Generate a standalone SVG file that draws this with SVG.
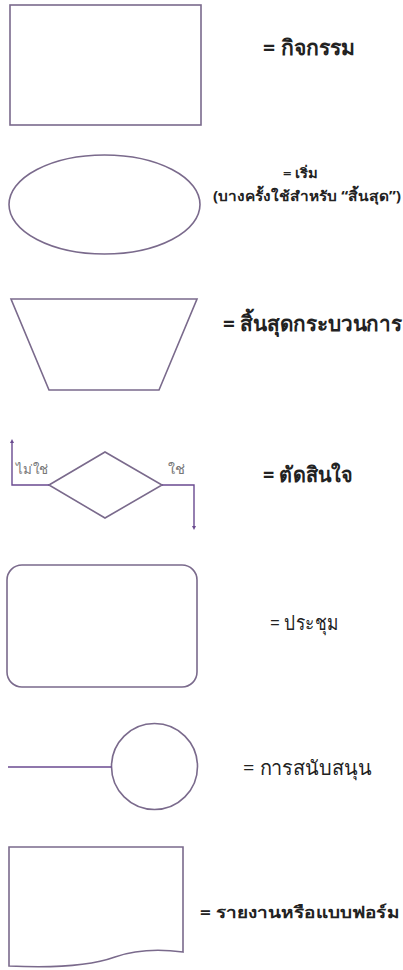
<svg xmlns="http://www.w3.org/2000/svg" width="403" height="970" viewBox="0 0 403 970">
<style>
.s{fill:#fff;stroke:#7a6a8c;stroke-width:1.6}
.l{fill:none;stroke:#6a4a90;stroke-width:1.4}
.t{font-family:"Noto Sans","DejaVu Sans",sans-serif;fill:#222;dominant-baseline:central}
.b{font-weight:bold}
.c{font-family:"Noto Sans","DejaVu Sans",sans-serif;fill:#777;font-size:13px;dominant-baseline:central}
</style>
<defs>
<marker id="ah" viewBox="0 0 6 6" refX="3" refY="3" markerWidth="4" markerHeight="4" orient="auto-start-reverse" markerUnits="userSpaceOnUse">
<path d="M0,0 L6,3 L0,6 z" fill="#6a4a90"/>
</marker>
</defs>
<rect width="403" height="970" fill="#fff"/>
<g id="activity">
<rect class="s" x="10" y="5" width="191" height="120"/>
<text class="t b" x="263" y="47" font-size="21" textLength="92" lengthAdjust="spacingAndGlyphs">= กิจกรรม</text>
</g>
<g id="start">
<ellipse class="s" cx="104.5" cy="204.5" rx="95.5" ry="49.5"/>
<text class="t b" x="283" y="173" font-size="13" textLength="35" lengthAdjust="spacingAndGlyphs">= เริ่ม</text>
<text class="t b" x="213" y="195" font-size="14" textLength="188" lengthAdjust="spacingAndGlyphs">(บางครั้งใช้สำหรับ “สิ้นสุด”)</text>
</g>
<g id="end-process">
<polygon class="s" points="11,299 197,299 159,390 49,390"/>
<text class="t b" x="223" y="323" font-size="21" textLength="179" lengthAdjust="spacingAndGlyphs">= สิ้นสุดกระบวนการ</text>
</g>
<g id="decision">
<polygon class="s" points="49,485 105,452 162,485 105,518"/>
<text class="c" x="16" y="469" textLength="32" lengthAdjust="spacingAndGlyphs">ไม่ใช่</text>
<text class="c" x="168" y="469" textLength="17" lengthAdjust="spacingAndGlyphs">ใช่</text>
<text class="t b" x="263" y="474" font-size="21" textLength="89" lengthAdjust="spacingAndGlyphs">= ตัดสินใจ</text>
</g>
<g id="meeting">
<rect class="s" x="7" y="565" width="190" height="122" rx="15" ry="15"/>
<text class="t" x="270" y="622" font-size="20" textLength="68" lengthAdjust="spacingAndGlyphs">= ประชุม</text>
</g>
<g id="support">
<circle class="s" cx="154.5" cy="766.5" r="43"/>
<text class="t" x="243" y="767" font-size="20" textLength="129" lengthAdjust="spacingAndGlyphs">= การสนับสนุน</text>
</g>
<g id="report">
<path class="s" d="M9,847 L183,847 L183,952 C160,949 135,950 115,957 C90,966 50,968 9,966 Z"/>
<text class="t b" x="200" y="912" font-size="16" textLength="200" lengthAdjust="spacingAndGlyphs">= รายงานหรือแบบฟอร์ม</text>
</g>
<g id="connectors">
<polyline class="l" points="49,485 12,485 12,441" marker-end="url(#ah)"/>
<polyline class="l" points="162,485 194,485 194,528" marker-end="url(#ah)"/>
<line class="l" x1="8" y1="767" x2="111.5" y2="767"/>
</g>
</svg>
